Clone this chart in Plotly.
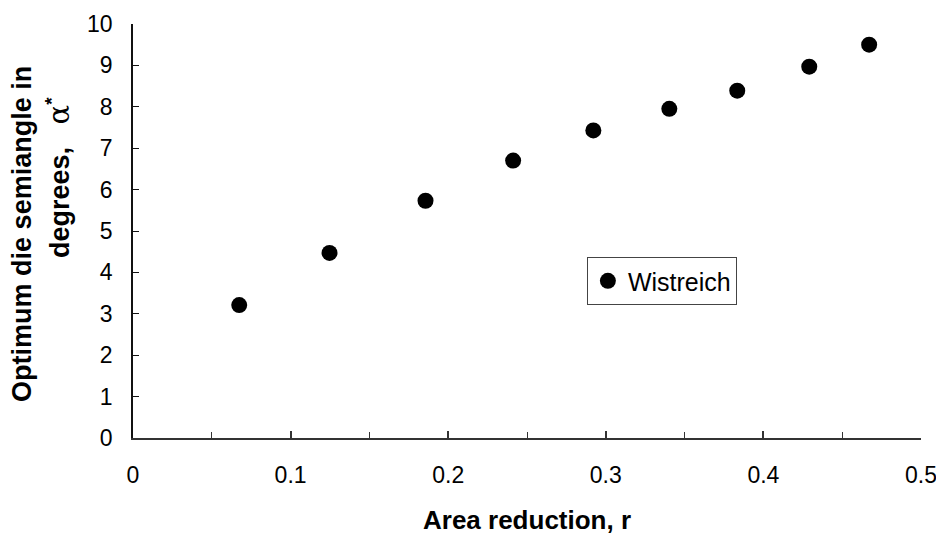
import plotly.graph_objects as go

area_reduction = [0.0674, 0.1247, 0.1856, 0.2412, 0.2921, 0.3403, 0.3834, 0.4291, 0.4671]
optimum_angle = [3.21, 4.47, 5.73, 6.70, 7.43, 7.95, 8.39, 8.97, 9.50]
series_name = "Wistreich"
x_ticks = [0, 0.1, 0.2, 0.3, 0.4, 0.5]
x_tick_labels = ["0", "0.1", "0.2", "0.3", "0.4", "0.5"]
y_ticks = list(range(0, 11))

FONT = "Liberation Sans, Arial, sans-serif"
AXC = "#333333"

fig = go.Figure()
fig.add_trace(go.Scatter(
    x=area_reduction, y=optimum_angle, mode="markers", name=series_name,
    marker=dict(color="black", size=16, symbol="circle"),
))

fig.update_layout(
    width=936, height=530,
    margin=dict(l=125, r=23, t=16, b=100, autoexpand=False),
    paper_bgcolor="white", plot_bgcolor="white",
    font=dict(family=FONT, size=23, color="black"),
    showlegend=True,
    legend=dict(
        x=0.576, y=0.437, xanchor="left", yanchor="top",
        bordercolor="#444444", borderwidth=1, bgcolor="white",
        font=dict(family=FONT, size=25, color="black"),
        itemwidth=30, tracegroupgap=0,
    ),
    xaxis=dict(
        range=[0, 0.5], tickvals=x_ticks, ticktext=x_tick_labels,
        showline=True, linecolor=AXC, linewidth=1.5, mirror=False,
        ticks="inside", ticklen=7, tickcolor=AXC, tickwidth=1.5,
        showgrid=False, zeroline=False, ticklabelstandoff=16, automargin=False,
        minor=dict(ticks="inside", dtick=0.05, ticklen=6, tickcolor=AXC, tickwidth=1.2, showgrid=False),
    ),
    yaxis=dict(
        range=[0, 10], tickvals=y_ticks,
        showline=True, linecolor="#111111", linewidth=1.5, mirror=False,
        ticks="inside", ticklen=6, tickcolor="#111111", tickwidth=1.2,
        showgrid=False, zeroline=False, ticklabelstandoff=14, automargin=False,
    ),
    annotations=[
        dict(
            text="<b>Area reduction, r</b>", xref="paper", yref="paper",
            x=0.5, y=-0.198, xanchor="center", yanchor="middle", showarrow=False,
            font=dict(family=FONT, size=26, color="black"),
        ),
        dict(
            text="<b>Optimum die semiangle in</b>",
            xref="paper", yref="paper", x=0, xshift=-111, y=0.493,
            xanchor="center", yanchor="middle", textangle=-90, showarrow=False,
            font=dict(family=FONT, size=27, color="black"),
        ),
        dict(
            text="<b>degrees,</b>   <span style='font-family:DejaVu Serif, serif;font-size:29px'>α</span><sup><b>*</b></sup>",
            xref="paper", yref="paper", x=0, xshift=-75, y=0.628,
            xanchor="center", yanchor="middle", textangle=-90, showarrow=False,
            font=dict(family=FONT, size=27, color="black"),
        ),
    ],
)

fig.write_html("out.html")
